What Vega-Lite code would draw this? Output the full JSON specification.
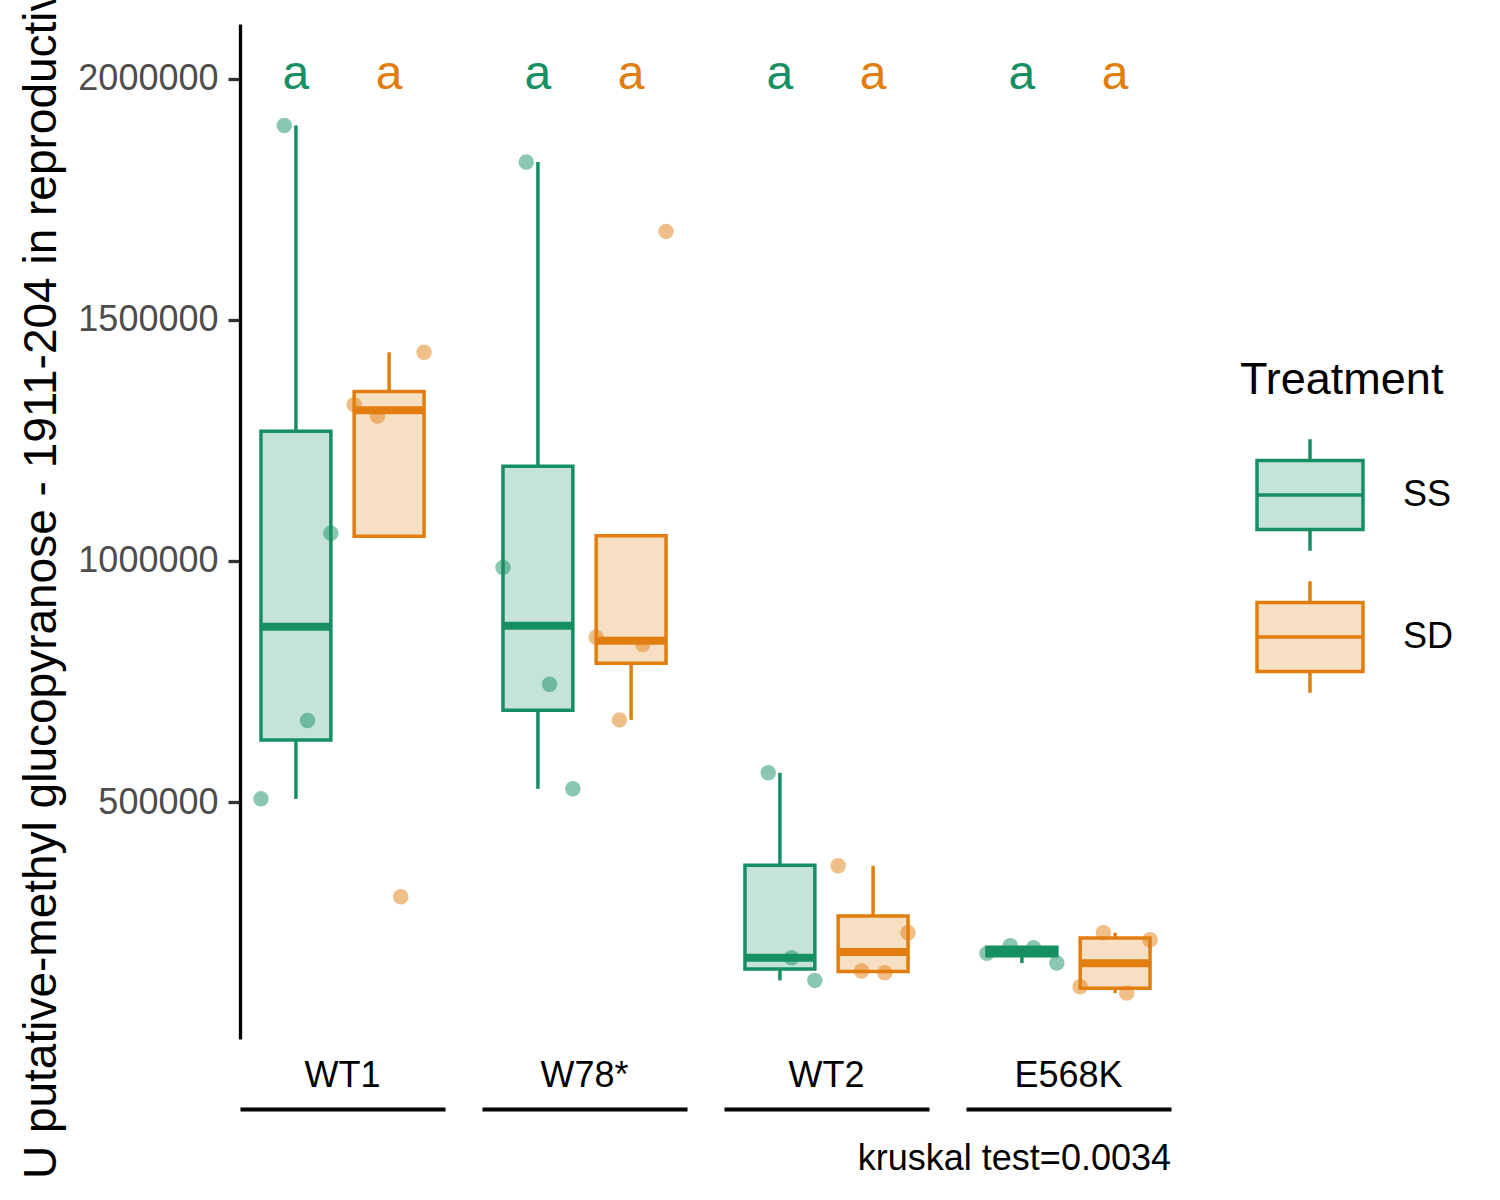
{
  "$schema": "https://vega.github.io/schema/vega-lite/v6.json",
  "padding": {"left": 18, "top": -171, "right": 0, "bottom": 0},
  "background": "white",
  "config": {
    "font": "Liberation Sans",
    "view": {"stroke": null},
    "axis": {"grid": false},
    "legend": {"padding": 0},
    "tick": {"opacity": 1}
  },
  "data": {
    "values": [
      {"Genotype": "WT1", "Treatment": "SS", "rep": 1, "value": 506800, "sig": "a"},
      {"Genotype": "WT1", "Treatment": "SS", "rep": 2, "value": 1902800, "sig": "a"},
      {"Genotype": "WT1", "Treatment": "SS", "rep": 3, "value": 669300, "sig": "a"},
      {"Genotype": "WT1", "Treatment": "SS", "rep": 4, "value": 1057400, "sig": "a"},
      {"Genotype": "WT1", "Treatment": "SD", "rep": 1, "value": 1324000, "sig": "a"},
      {"Genotype": "WT1", "Treatment": "SD", "rep": 2, "value": 1300400, "sig": "a"},
      {"Genotype": "WT1", "Treatment": "SD", "rep": 3, "value": 303800, "sig": "a"},
      {"Genotype": "WT1", "Treatment": "SD", "rep": 4, "value": 1432500, "sig": "a"},
      {"Genotype": "W78*", "Treatment": "SS", "rep": 1, "value": 986300, "sig": "a"},
      {"Genotype": "W78*", "Treatment": "SS", "rep": 2, "value": 1826700, "sig": "a"},
      {"Genotype": "W78*", "Treatment": "SS", "rep": 3, "value": 744500, "sig": "a"},
      {"Genotype": "W78*", "Treatment": "SS", "rep": 4, "value": 527600, "sig": "a"},
      {"Genotype": "W78*", "Treatment": "SD", "rep": 1, "value": 841900, "sig": "a"},
      {"Genotype": "W78*", "Treatment": "SD", "rep": 2, "value": 670500, "sig": "a"},
      {"Genotype": "W78*", "Treatment": "SD", "rep": 3, "value": 826700, "sig": "a"},
      {"Genotype": "W78*", "Treatment": "SD", "rep": 4, "value": 1683100, "sig": "a"},
      {"Genotype": "WT2", "Treatment": "SS", "rep": 2, "value": 560700, "sig": "a"},
      {"Genotype": "WT2", "Treatment": "SS", "rep": 3, "value": 177400, "sig": "a"},
      {"Genotype": "WT2", "Treatment": "SS", "rep": 4, "value": 130500, "sig": "a"},
      {"Genotype": "WT2", "Treatment": "SD", "rep": 1, "value": 368000, "sig": "a"},
      {"Genotype": "WT2", "Treatment": "SD", "rep": 2, "value": 149800, "sig": "a"},
      {"Genotype": "WT2", "Treatment": "SD", "rep": 3, "value": 146300, "sig": "a"},
      {"Genotype": "WT2", "Treatment": "SD", "rep": 4, "value": 229200, "sig": "a"},
      {"Genotype": "E568K", "Treatment": "SS", "rep": 1, "value": 186500, "sig": "a"},
      {"Genotype": "E568K", "Treatment": "SS", "rep": 2, "value": 202200, "sig": "a"},
      {"Genotype": "E568K", "Treatment": "SS", "rep": 3, "value": 198100, "sig": "a"},
      {"Genotype": "E568K", "Treatment": "SS", "rep": 4, "value": 166400, "sig": "a"},
      {"Genotype": "E568K", "Treatment": "SD", "rep": 1, "value": 117300, "sig": "a"},
      {"Genotype": "E568K", "Treatment": "SD", "rep": 2, "value": 229200, "sig": "a"},
      {"Genotype": "E568K", "Treatment": "SD", "rep": 3, "value": 104200, "sig": "a"},
      {"Genotype": "E568K", "Treatment": "SD", "rep": 4, "value": 214700, "sig": "a"}
    ]
  },
  "facet": {
    "column": {
      "field": "Genotype",
      "type": "nominal",
      "sort": ["WT1", "W78*", "WT2", "E568K"],
      "title": "kruskal test=0.0034",
      "header": {
        "titleOrient": "bottom",
        "titleAnchor": "end",
        "titleFontSize": 36,
        "titleFontWeight": "normal",
        "titleColor": "black",
        "titlePadding": 23,
        "labelOrient": "bottom",
        "labelFontSize": 36,
        "labelColor": "black",
        "labelPadding": -50
      }
    }
  },
  "spacing": 37,
  "spec": {
    "width": 205,
    "height": 1015,
    "encoding": {
      "x": {
        "field": "Treatment",
        "type": "nominal",
        "scale": {"domain": ["SS", "SD"], "paddingInner": 0.25, "paddingOuter": 0.225},
        "axis": {"orient": "bottom", "title": null, "labels": false, "ticks": false, "domain": true, "domainColor": "black", "domainWidth": 4, "offset": 70}
      }
    },
    "resolve": {"scale": {"xOffset": "independent"}},
    "layer": [
      {
        "transform": [
          {"joinaggregate": [{"op": "q1", "field": "value", "as": "q1"}, {"op": "q3", "field": "value", "as": "q3"}], "groupby": ["Genotype", "Treatment"]},
          {"filter": "datum.value >= datum.q1 - 1.5 * (datum.q3 - datum.q1) && datum.value <= datum.q3 + 1.5 * (datum.q3 - datum.q1)"},
          {"aggregate": [
            {"op": "min", "field": "value", "as": "lo"},
            {"op": "max", "field": "value", "as": "hi"},
            {"op": "min", "field": "q1", "as": "q1"},
            {"op": "min", "field": "q3", "as": "q3"}
          ], "groupby": ["Genotype", "Treatment"]}
        ],
        "encoding": {
          "color": {"field": "Treatment", "type": "nominal", "scale": {"domain": ["SD", "SS"], "range": ["#E17E0F", "#168F62"]}, "legend": null}
        },
        "layer": [
          {
            "mark": {"type": "rule", "strokeWidth": 3.5},
            "encoding": {
              "y": {"field": "hi", "type": "quantitative", "scale": {"domain": [9000, 2113000], "nice": false, "zero": false},
                "axis": {
                  "title": "U putative-methyl glucopyranose - 1911-204 in reproductive tissue",
                  "values": [500000, 1000000, 1500000, 2000000],
                  "format": "d",
                  "domainColor": "black", "domainWidth": 3.3,
                  "tickColor": "#333333", "tickWidth": 3.3, "tickSize": 12,
                  "labelFontSize": 36, "labelColor": "#4D4D4D", "labelPadding": 10,
                  "titleFontSize": 46, "titleFontWeight": "normal", "titleColor": "black", "titlePadding": 12,
                  "titleY": 480
                }
              },
              "y2": {"field": "q3"}
            }
          },
          {
            "mark": {"type": "rule", "strokeWidth": 3.5},
            "encoding": {
              "y": {"field": "lo", "type": "quantitative"},
              "y2": {"field": "q1"}
            }
          }
        ]
      },
      {
        "transform": [
          {"aggregate": [
            {"op": "q1", "field": "value", "as": "q1"},
            {"op": "q3", "field": "value", "as": "q3"},
            {"op": "median", "field": "value", "as": "med"}
          ], "groupby": ["Genotype", "Treatment"]}
        ],
        "layer": [
          {
            "mark": {"type": "bar", "strokeWidth": 3.5},
            "encoding": {
              "y": {"field": "q1", "type": "quantitative"},
              "y2": {"field": "q3"},
              "fill": {"field": "Treatment", "type": "nominal", "scale": {"domain": ["SS", "SD"], "range": ["#C5E3D8", "#F7DFC3"]},
                "legend": {
                  "title": "Treatment",
                  "orient": "none",
                  "legendX": 1000,
                  "legendY": 334,
                  "titleFontSize": 45, "titleFontWeight": "normal", "titleColor": "black", "titlePadding": 37, "titleLimit": 500,
                  "labelFontSize": 36, "labelColor": "black", "labelOffset": 38,
                  "symbolType": "M-1,-0.653H1V0.653H-1Z M0,-1.05V-0.653 M0,0.653V1.05 M-1,0H1",
                  "symbolSize": 11236,
                  "symbolStrokeWidth": 3.5,
                  "symbolOffset": 15,
                  "rowPadding": 16
                }
              },
              "stroke": {"field": "Treatment", "type": "nominal", "scale": {"domain": ["SS", "SD"], "range": ["#168F62", "#E17E0F"]},
                "legend": {
                  "title": "Treatment",
                  "orient": "none",
                  "legendX": 1000,
                  "legendY": 334,
                  "titleFontSize": 45, "titleFontWeight": "normal", "titleColor": "black", "titlePadding": 37, "titleLimit": 500,
                  "labelFontSize": 36, "labelColor": "black", "labelOffset": 38,
                  "symbolType": "M-1,-0.653H1V0.653H-1Z M0,-1.05V-0.653 M0,0.653V1.05 M-1,0H1",
                  "symbolSize": 11236,
                  "symbolStrokeWidth": 3.5,
                  "symbolOffset": 15,
                  "rowPadding": 16
                }
              }
            }
          },
          {
            "mark": {"type": "tick", "thickness": 8, "size": 72},
            "encoding": {
              "y": {"field": "med", "type": "quantitative"},
              "color": {"field": "Treatment", "type": "nominal", "scale": {"domain": ["SD", "SS"], "range": ["#E17E0F", "#168F62"]}, "legend": null}
            }
          }
        ]
      },
      {
        "mark": {"type": "circle", "size": 240, "opacity": 0.5},
        "encoding": {
          "y": {"field": "value", "type": "quantitative"},
          "xOffset": {"field": "rep", "type": "nominal", "scale": {"domain": [1, 2, 3, 4], "paddingInner": 0, "paddingOuter": 0}},
          "color": {"field": "Treatment", "type": "nominal", "scale": {"domain": ["SD", "SS"], "range": ["#E17E0F", "#168F62"]}, "legend": null}
        }
      },
      {
        "transform": [
          {"aggregate": [{"op": "count", "as": "n"}], "groupby": ["Genotype", "Treatment", "sig"]}
        ],
        "mark": {"type": "text", "fontSize": 48, "baseline": "middle"},
        "encoding": {
          "y": {"datum": 2008000, "type": "quantitative"},
          "text": {"field": "sig"},
          "color": {"field": "Treatment", "type": "nominal", "scale": {"domain": ["SD", "SS"], "range": ["#E17E0F", "#168F62"]}, "legend": null}
        }
      }
    ]
  }
}
